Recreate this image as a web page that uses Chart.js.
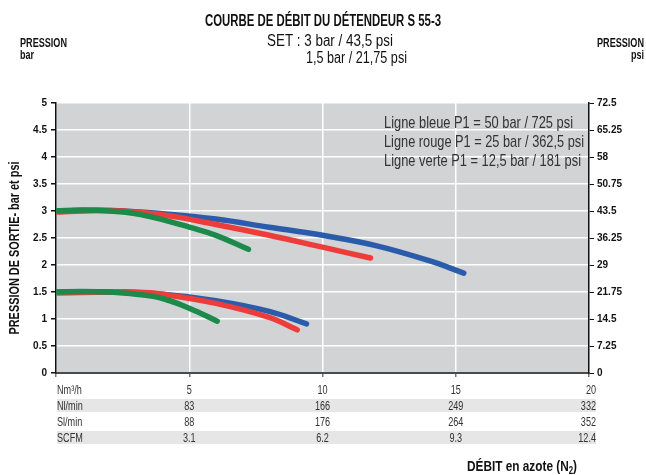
<!DOCTYPE html>
<html>
<head>
<meta charset="utf-8">
<script src="https://cdn.jsdelivr.net/npm/chart.js@4"></script>
<style>
  html, body { margin: 0; padding: 0; background: #fff; }
  #wrap { width: 646px; height: 475px; position: relative; }
</style>
</head>
<body>
<div id="wrap"><canvas id="c" width="646" height="475"></canvas></div>
<script>
// data (x = Nm3/h, y = bar)
const blueHighX = [0, 2, 4, 6, 8, 10, 12, 14, 15.3];
const blueHighY = [3.0, 3.01, 2.95, 2.85, 2.7, 2.55, 2.36, 2.08, 1.85];
const redHighX = [0, 2, 4, 6, 8, 10, 11.8];
const redHighY = [2.98, 3.01, 2.93, 2.75, 2.55, 2.33, 2.13];
const greenHighX = [0, 1, 2, 3, 4, 5, 6, 7.22];
const greenHighY = [3.0, 3.02, 3.0, 2.95, 2.84, 2.7, 2.55, 2.29];

const blueLowX = [0, 2, 4, 6, 8, 9.4];
const blueLowY = [1.5, 1.5, 1.46, 1.34, 1.14, 0.91];
const redLowX = [0, 2, 3, 4, 6, 8, 9.05];
const redLowY = [1.48, 1.5, 1.5, 1.46, 1.29, 1.03, 0.8];
const greenLowX = [0, 1, 2, 3, 4, 5, 6.05];
const greenLowY = [1.5, 1.51, 1.5, 1.46, 1.38, 1.2, 0.96];

const rightTickLabels = ['0', '7.25', '14.5', '21.75', '29', '36.25', '43.5', '50.75', '58', '65.25', '72.5'];

// conversion table under the x axis
const tableCols = [5, 10, 15, 20];
const tableRows = ['Nm³/h', 'Nl/min', 'Sl/min', 'SCFM'];
const rowNm3h = ['5', '10', '15', '20'];
const rowNlmin = ['83', '166', '249', '332'];
const rowSlmin = ['88', '176', '264', '352'];
const rowScfm = ['3.1', '6.2', '9.3', '12.4'];

const legendLines = [
  'Ligne bleue P1 = 50 bar / 725 psi',
  'Ligne rouge P1 = 25 bar / 362,5 psi',
  'Ligne verte P1 = 12,5 bar / 181 psi'
];

const FONT = '"Liberation Sans", Arial, sans-serif';
const BLUE = '#2b5cab';
const RED = '#ec3d3b';
const GREEN = '#1c8a4b';

function pts(xs, ys) {
  return xs.map((x, i) => ({ x: x, y: ys[i] }));
}

function lineDs(label, xs, ys, color) {
  return {
    label: label,
    data: pts(xs, ys),
    borderColor: color,
    backgroundColor: color,
    borderWidth: 5.5,
    borderCapStyle: 'round',
    borderJoinStyle: 'round',
    pointRadius: 0,
    tension: 0.4,
    fill: false,
    yAxisID: 'y'
  };
}

// draw text squeezed to a given width (the original uses a condensed face)
function fitText(ctx, text, x, y, align, font, width) {
  ctx.font = font;
  const sx = width / ctx.measureText(text).width;
  ctx.save();
  ctx.translate(x, y);
  ctx.scale(sx, 1);
  ctx.textAlign = align;
  ctx.fillText(text, 0, 0);
  ctx.restore();
}

function squeezeText(ctx, text, x, y, align, font, sx) {
  ctx.save();
  ctx.font = font;
  ctx.translate(x, y);
  ctx.scale(sx, 1);
  ctx.textAlign = align;
  ctx.fillText(text, 0, 0);
  ctx.restore();
}

/* ---------------------------
   Background + texts
   --------------------------- */

const decoPlugin = {
  id: 'deco',
  beforeDraw(chart) {
    const { ctx, chartArea: a } = chart;
    ctx.save();
    ctx.fillStyle = '#d2d3d5';
    ctx.fillRect(a.left, a.top, a.right - a.left, a.bottom - a.top);
    ctx.restore();
  },
  afterDraw(chart) {
    const ctx = chart.ctx;
    const xs = chart.scales.x;
    ctx.save();
    ctx.textBaseline = 'middle';

    // headings
    ctx.fillStyle = '#111';
    fitText(ctx, 'COURBE DE DÉBIT DU DÉTENDEUR S 55-3', 205, 22, 'left', 'bold 16px ' + FONT, 236);
    fitText(ctx, 'SET : 3 bar / 43,5 psi', 267, 42, 'left', '16px ' + FONT, 126);
    fitText(ctx, '1,5 bar / 21,75 psi', 306, 59, 'left', '16px ' + FONT, 101);

    fitText(ctx, 'PRESSION', 20, 44, 'left', 'bold 12px ' + FONT, 47);
    squeezeText(ctx, 'bar', 20, 56, 'left', 'bold 12px ' + FONT, 0.75);
    fitText(ctx, 'PRESSION', 644, 44, 'right', 'bold 12px ' + FONT, 47);
    squeezeText(ctx, 'psi', 644, 56, 'right', 'bold 12px ' + FONT, 0.75);

    // legend text inside the plot
    ctx.fillStyle = '#333';
    const legW = [189, 200, 197];
    legendLines.forEach((t, i) => fitText(ctx, t, 384, 123 + i * 19, 'left', '17px ' + FONT, legW[i]));

    // y axis title
    ctx.save();
    ctx.translate(15, 248);
    ctx.rotate(-Math.PI / 2);
    ctx.fillStyle = '#111';
    fitText(ctx, 'PRESSION DE SORTIE- bar et psi', 0, 0, 'center', 'bold 14px ' + FONT, 173);
    ctx.restore();

    // table
    const left = 57, right = 596;
    const rowY = [390, 406, 422, 438];
    ctx.fillStyle = '#e6e6e7';
    [1, 3].forEach(r => ctx.fillRect(left, rowY[r] - 7, right - left, 13));
    const rows = [rowNm3h, rowNlmin, rowSlmin, rowScfm];
    const tf = '13px ' + FONT;
    ctx.fillStyle = '#333';
    rows.forEach((vals, r) => {
      squeezeText(ctx, tableRows[r], left, rowY[r], 'left', tf, 0.7);
      vals.forEach((v, c) => {
        if (c === vals.length - 1) {
          squeezeText(ctx, v, right, rowY[r], 'right', tf, 0.7);
        } else {
          squeezeText(ctx, v, xs.getPixelForValue(tableCols[c]), rowY[r], 'center', tf, 0.7);
        }
      });
    });

    // x axis title with subscript, squeezed to the original width
    ctx.fillStyle = '#111';
    const main = 'DÉBIT en azote (N';
    const big = 'bold 15px ' + FONT, small = 'bold 10px ' + FONT;
    ctx.font = big;
    const w1 = ctx.measureText(main).width, w3 = ctx.measureText(')').width;
    ctx.font = small;
    const w2 = ctx.measureText('2').width;
    const sx = 110 / (w1 + w2 + w3);
    ctx.save();
    ctx.translate(467, 467);
    ctx.scale(sx, 1);
    ctx.textAlign = 'left';
    ctx.font = big;
    ctx.fillText(main, 0, 0);
    ctx.font = small;
    ctx.fillText('2', w1, 4);
    ctx.font = big;
    ctx.fillText(')', w1 + w2, 0);
    ctx.restore();

    ctx.restore();
  }
};

/* ---------------------------
   Chart
   --------------------------- */

new Chart(document.getElementById('c'), {
  type: 'line',
  data: {
    datasets: [
      lineDs('Verte 3 bar', greenHighX, greenHighY, GREEN),
      lineDs('Rouge 3 bar', redHighX, redHighY, RED),
      lineDs('Bleue 3 bar', blueHighX, blueHighY, BLUE),
      lineDs('Verte 1,5 bar', greenLowX, greenLowY, GREEN),
      lineDs('Rouge 1,5 bar', redLowX, redLowY, RED),
      lineDs('Bleue 1,5 bar', blueLowX, blueLowY, BLUE)
    ]
  },
  options: {
    responsive: false,
    animation: false,
    layout: { padding: { top: 103, left: 0, right: 0, bottom: 0 } },
    plugins: {
      legend: { display: false },
      title: { display: false },
      tooltip: { enabled: false }
    },
    scales: {
      x: {
        type: 'linear',
        min: 0,
        max: 20,
        ticks: { stepSize: 5, color: 'rgba(0,0,0,0)', font: { size: 10 } },
        grid: { color: '#ffffff', lineWidth: 1.5, tickColor: '#777', tickLength: 4 },
        border: { color: '#4a4a4a', width: 2 },
        afterFit: s => { s.height = 102; }
      },
      y: {
        position: 'left',
        min: 0,
        max: 5,
        ticks: {
          stepSize: 0.5,
          color: '#111',
          padding: 4,
          font: { family: FONT, size: 10, weight: 'bold' },
          callback: v => String(v)
        },
        grid: { color: '#ffffff', lineWidth: 1.5, tickColor: '#111', tickLength: 5 },
        border: { color: '#111', width: 1.5 },
        afterFit: s => { s.width = 56; }
      },
      y2: {
        position: 'right',
        min: 0,
        max: 72.5,
        ticks: {
          stepSize: 7.25,
          color: '#111',
          padding: 3,
          font: { family: FONT, size: 10, weight: 'bold' },
          callback: (v, i) => rightTickLabels[i]
        },
        grid: { drawOnChartArea: false, tickColor: '#111', tickLength: 5 },
        border: { color: '#111', width: 1.5 },
        afterFit: s => { s.width = 57; }
      }
    }
  },
  plugins: [decoPlugin]
});
</script>
</body>
</html>
